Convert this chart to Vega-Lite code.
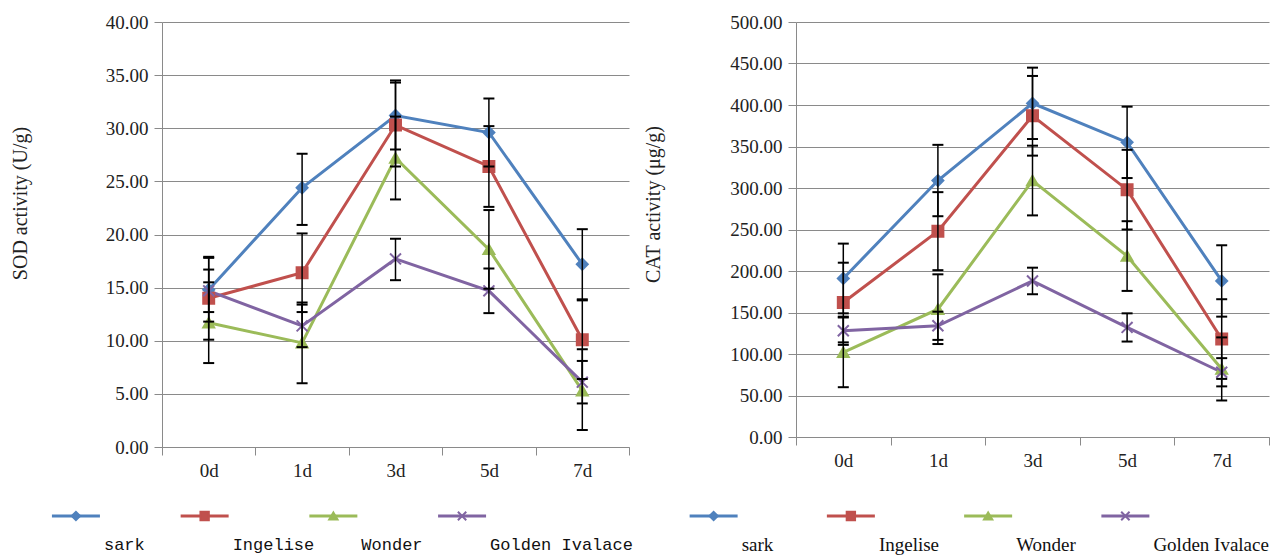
{
  "$schema": "https://vega.github.io/schema/vega-lite/v6.json",
  "background": "white",
  "padding": {"left": 10, "top": 13, "right": 0, "bottom": 0},
  "config": {
    "view": {"stroke": null},
    "font": "Liberation Serif",
    "axis": {
      "labelFont": "Liberation Serif", "labelFontSize": 19, "labelColor": "#222222",
      "titleFont": "Liberation Serif", "titleFontSize": 20, "titleFontWeight": "normal", "titleColor": "#222222",
      "domainColor": "#8a8a8a", "tickColor": "#8a8a8a", "gridColor": "#8a8a8a", "gridOpacity": 1,
      "tickSize": 8, "labelPadding": 6
    }
  },
  "datasets": {
    "sod": [
      {"series": "sark", "day": "0d", "mean": 14.8, "lo": 11.8, "hi": 17.8},
      {"series": "sark", "day": "1d", "mean": 24.4, "lo": 20.9, "hi": 27.6},
      {"series": "sark", "day": "3d", "mean": 31.2, "lo": 28.0, "hi": 34.5},
      {"series": "sark", "day": "5d", "mean": 29.6, "lo": 26.4, "hi": 32.8},
      {"series": "sark", "day": "7d", "mean": 17.2, "lo": 13.9, "hi": 20.5},
      {"series": "Ingelise", "day": "0d", "mean": 14.0, "lo": 10.1, "hi": 17.9},
      {"series": "Ingelise", "day": "1d", "mean": 16.4, "lo": 12.7, "hi": 20.1},
      {"series": "Ingelise", "day": "3d", "mean": 30.3, "lo": 26.4, "hi": 34.3},
      {"series": "Ingelise", "day": "5d", "mean": 26.4, "lo": 22.6, "hi": 30.2},
      {"series": "Ingelise", "day": "7d", "mean": 10.1, "lo": 6.4, "hi": 13.8},
      {"series": "Wonder", "day": "0d", "mean": 11.7, "lo": 7.9, "hi": 15.5},
      {"series": "Wonder", "day": "1d", "mean": 9.8, "lo": 6.0, "hi": 13.6},
      {"series": "Wonder", "day": "3d", "mean": 27.2, "lo": 23.3, "hi": 31.1},
      {"series": "Wonder", "day": "5d", "mean": 18.6, "lo": 14.9, "hi": 22.3},
      {"series": "Wonder", "day": "7d", "mean": 5.3, "lo": 1.6, "hi": 9.2},
      {"series": "Golden Ivalace", "day": "0d", "mean": 14.7, "lo": 12.7, "hi": 16.7},
      {"series": "Golden Ivalace", "day": "1d", "mean": 11.4, "lo": 9.4, "hi": 13.4},
      {"series": "Golden Ivalace", "day": "3d", "mean": 17.7, "lo": 15.7, "hi": 19.6},
      {"series": "Golden Ivalace", "day": "5d", "mean": 14.7, "lo": 12.6, "hi": 16.8},
      {"series": "Golden Ivalace", "day": "7d", "mean": 6.1, "lo": 4.1, "hi": 8.1}
    ],
    "cat": [
      {"series": "sark", "day": "0d", "mean": 191, "lo": 149, "hi": 233},
      {"series": "sark", "day": "1d", "mean": 309, "lo": 266, "hi": 352},
      {"series": "sark", "day": "3d", "mean": 402, "lo": 359, "hi": 445},
      {"series": "sark", "day": "5d", "mean": 355, "lo": 312, "hi": 398},
      {"series": "sark", "day": "7d", "mean": 188, "lo": 145, "hi": 231},
      {"series": "Ingelise", "day": "0d", "mean": 162, "lo": 114, "hi": 210},
      {"series": "Ingelise", "day": "1d", "mean": 248, "lo": 201, "hi": 295},
      {"series": "Ingelise", "day": "3d", "mean": 387, "lo": 339, "hi": 435},
      {"series": "Ingelise", "day": "5d", "mean": 298, "lo": 250, "hi": 346},
      {"series": "Ingelise", "day": "7d", "mean": 118, "lo": 70, "hi": 166},
      {"series": "Wonder", "day": "0d", "mean": 102, "lo": 60, "hi": 144},
      {"series": "Wonder", "day": "1d", "mean": 154, "lo": 112, "hi": 196},
      {"series": "Wonder", "day": "3d", "mean": 309, "lo": 267, "hi": 351},
      {"series": "Wonder", "day": "5d", "mean": 218, "lo": 176, "hi": 260},
      {"series": "Wonder", "day": "7d", "mean": 82, "lo": 44, "hi": 120},
      {"series": "Golden Ivalace", "day": "0d", "mean": 128, "lo": 111, "hi": 145},
      {"series": "Golden Ivalace", "day": "1d", "mean": 134, "lo": 117, "hi": 151},
      {"series": "Golden Ivalace", "day": "3d", "mean": 188, "lo": 172, "hi": 204},
      {"series": "Golden Ivalace", "day": "5d", "mean": 132, "lo": 115, "hi": 149},
      {"series": "Golden Ivalace", "day": "7d", "mean": 78, "lo": 61, "hi": 95}
    ],
    "legend": [
      {"series": "sark"},
      {"series": "Ingelise"},
      {"series": "Wonder"},
      {"series": "Golden Ivalace"}
    ]
  },
  "vconcat": [
    {
      "hconcat": [
        {
          "width": 467,
          "height": 425,
          "data": {"name": "sod"},
          "encoding": {
            "x": {
              "field": "day", "type": "nominal",
              "scale": {"type": "band", "domain": ["0d", "1d", "3d", "5d", "7d"], "paddingInner": 0, "paddingOuter": 0},
              "axis": {"title": null, "tickBand": "extent", "labelAngle": 0, "grid": false}
            }
          },
          "layer": [
            {
              "mark": {"type": "line", "strokeWidth": 3},
              "encoding": {
                "y": {
                  "field": "mean", "type": "quantitative", "title": "SOD activity (U/g)",
                  "scale": {"domain": [0, 40], "nice": false},
                  "axis": {"values": [0, 5, 10, 15, 20, 25, 30, 35, 40], "format": ".2f", "grid": true, "titlePadding": 75, "titleX": -132, "titleY": 181}
                },
                "color": {
                  "field": "series", "type": "nominal", "legend": null,
                  "scale": {"domain": ["sark", "Ingelise", "Wonder", "Golden Ivalace"], "range": ["#4f81bd", "#c0504d", "#9bbb59", "#8064a2"]}
                }
              }
            },
            {
              "mark": {"type": "point", "filled": true, "size": 120, "strokeWidth": 2, "opacity": 1},
              "encoding": {
                "y": {"field": "mean", "type": "quantitative", "title": "SOD activity (U/g)", "axis": {"values": [0, 5, 10, 15, 20, 25, 30, 35, 40], "format": ".2f", "grid": true, "titlePadding": 75, "titleX": -132, "titleY": 181}},
                "color": {"field": "series", "type": "nominal", "legend": null},
                "stroke": {
                  "field": "series", "type": "nominal", "legend": null,
                  "scale": {"domain": ["sark", "Ingelise", "Wonder", "Golden Ivalace"], "range": ["#4f81bd", "#c0504d", "#9bbb59", "#8064a2"]}
                },
                "shape": {
                  "field": "series", "type": "nominal", "legend": null,
                  "scale": {"domain": ["sark", "Ingelise", "Wonder", "Golden Ivalace"], "range": ["diamond", "square", "triangle-up", "M-1,-1L1,1M-1,1L1,-1"]}
                }
              }
            },
            {
              "mark": {"type": "rule", "color": "black", "strokeWidth": 1.5},
              "encoding": {
                "y": {"field": "lo", "type": "quantitative", "title": "SOD activity (U/g)", "axis": {"values": [0, 5, 10, 15, 20, 25, 30, 35, 40], "format": ".2f", "grid": true, "titlePadding": 75, "titleX": -132, "titleY": 181}},
                "y2": {"field": "hi"}
              }
            },
            {
              "mark": {"type": "tick", "color": "black", "size": 11, "thickness": 2, "opacity": 1},
              "encoding": {"y": {"field": "lo", "type": "quantitative", "title": "SOD activity (U/g)", "axis": {"values": [0, 5, 10, 15, 20, 25, 30, 35, 40], "format": ".2f", "grid": true, "titlePadding": 75, "titleX": -132, "titleY": 181}}}
            },
            {
              "mark": {"type": "tick", "color": "black", "size": 11, "thickness": 2, "opacity": 1},
              "encoding": {"y": {"field": "hi", "type": "quantitative", "title": "SOD activity (U/g)", "axis": {"values": [0, 5, 10, 15, 20, 25, 30, 35, 40], "format": ".2f", "grid": true, "titlePadding": 75, "titleX": -132, "titleY": 181}}}
            }
          ]
        },
        {
          "width": 473,
          "height": 415,
          "data": {"name": "cat"},
          "encoding": {
            "x": {
              "field": "day", "type": "nominal",
              "scale": {"type": "band", "domain": ["0d", "1d", "3d", "5d", "7d"], "paddingInner": 0, "paddingOuter": 0},
              "axis": {"title": null, "tickBand": "extent", "labelAngle": 0, "grid": false}
            }
          },
          "layer": [
            {
              "mark": {"type": "line", "strokeWidth": 3},
              "encoding": {
                "y": {
                  "field": "mean", "type": "quantitative", "title": "CAT activity (μg/g)",
                  "scale": {"domain": [0, 500], "nice": false},
                  "axis": {"values": [0, 50, 100, 150, 200, 250, 300, 350, 400, 450, 500], "format": ".2f", "grid": true, "titlePadding": 67, "titleX": -133, "titleY": 182}
                },
                "color": {
                  "field": "series", "type": "nominal", "legend": null,
                  "scale": {"domain": ["sark", "Ingelise", "Wonder", "Golden Ivalace"], "range": ["#4f81bd", "#c0504d", "#9bbb59", "#8064a2"]}
                }
              }
            },
            {
              "mark": {"type": "point", "filled": true, "size": 120, "strokeWidth": 2, "opacity": 1},
              "encoding": {
                "y": {"field": "mean", "type": "quantitative", "title": "CAT activity (μg/g)", "axis": {"values": [0, 50, 100, 150, 200, 250, 300, 350, 400, 450, 500], "format": ".2f", "grid": true, "titlePadding": 67, "titleX": -133, "titleY": 182}},
                "color": {"field": "series", "type": "nominal", "legend": null},
                "stroke": {
                  "field": "series", "type": "nominal", "legend": null,
                  "scale": {"domain": ["sark", "Ingelise", "Wonder", "Golden Ivalace"], "range": ["#4f81bd", "#c0504d", "#9bbb59", "#8064a2"]}
                },
                "shape": {
                  "field": "series", "type": "nominal", "legend": null,
                  "scale": {"domain": ["sark", "Ingelise", "Wonder", "Golden Ivalace"], "range": ["diamond", "square", "triangle-up", "M-1,-1L1,1M-1,1L1,-1"]}
                }
              }
            },
            {
              "mark": {"type": "rule", "color": "black", "strokeWidth": 1.5},
              "encoding": {
                "y": {"field": "lo", "type": "quantitative", "title": "CAT activity (μg/g)", "axis": {"values": [0, 50, 100, 150, 200, 250, 300, 350, 400, 450, 500], "format": ".2f", "grid": true, "titlePadding": 67, "titleX": -133, "titleY": 182}},
                "y2": {"field": "hi"}
              }
            },
            {
              "mark": {"type": "tick", "color": "black", "size": 11, "thickness": 2, "opacity": 1},
              "encoding": {"y": {"field": "lo", "type": "quantitative", "title": "CAT activity (μg/g)", "axis": {"values": [0, 50, 100, 150, 200, 250, 300, 350, 400, 450, 500], "format": ".2f", "grid": true, "titlePadding": 67, "titleX": -133, "titleY": 182}}}
            },
            {
              "mark": {"type": "tick", "color": "black", "size": 11, "thickness": 2, "opacity": 1},
              "encoding": {"y": {"field": "hi", "type": "quantitative", "title": "CAT activity (μg/g)", "axis": {"values": [0, 50, 100, 150, 200, 250, 300, 350, 400, 450, 500], "format": ".2f", "grid": true, "titlePadding": 67, "titleX": -133, "titleY": 182}}}
            }
          ]
        }
      ],
      "spacing": 167,
      "bounds": "flush"
    },
    {
      "hconcat": [
        {
          "width": 520,
          "height": 20,
          "data": {"name": "legend"},
          "encoding": {
            "x": {"field": "series", "type": "nominal", "axis": null,
              "scale": {"type": "point", "domain": ["sark", "Ingelise", "Wonder", "Golden Ivalace"], "padding": 0.52}}
          },
          "layer": [
            {
              "mark": {"type": "tick", "orient": "horizontal", "size": 48, "thickness": 3, "opacity": 1, "xOffset": -153},
              "encoding": {"color": {"field": "series", "type": "nominal", "legend": null}}
            },
            {
              "mark": {"type": "point", "filled": true, "size": 70, "strokeWidth": 2, "opacity": 1, "xOffset": -153},
              "encoding": {
                "color": {"field": "series", "type": "nominal", "legend": null},
                "stroke": {"field": "series", "type": "nominal", "legend": null},
                "shape": {"field": "series", "type": "nominal", "legend": null}
              }
            },
            {
              "mark": {"type": "text", "align": "left", "baseline": "middle", "xOffset": -153, "dx": 28, "dy": 29, "font": "Liberation Mono", "fontSize": 17, "color": "#111111"},
              "encoding": {"text": {"field": "series"}}
            }
          ]
        },
        {
          "width": 549,
          "height": 20,
          "data": {"name": "legend"},
          "encoding": {
            "x": {"field": "series", "type": "nominal", "axis": null,
              "scale": {"type": "point", "domain": ["sark", "Ingelise", "Wonder", "Golden Ivalace"], "padding": 0.5}}
          },
          "layer": [
            {
              "mark": {"type": "tick", "orient": "horizontal", "size": 48, "thickness": 3, "opacity": 1, "xOffset": -153},
              "encoding": {"color": {"field": "series", "type": "nominal", "legend": null}}
            },
            {
              "mark": {"type": "point", "filled": true, "size": 70, "strokeWidth": 2, "opacity": 1, "xOffset": -153},
              "encoding": {
                "color": {"field": "series", "type": "nominal", "legend": null},
                "stroke": {"field": "series", "type": "nominal", "legend": null},
                "shape": {"field": "series", "type": "nominal", "legend": null}
              }
            },
            {
              "mark": {"type": "text", "align": "left", "baseline": "middle", "xOffset": -153, "dx": 28, "dy": 29, "font": "Liberation Serif", "fontSize": 19, "color": "#111111"},
              "encoding": {"text": {"field": "series"}}
            }
          ]
        }
      ],
      "spacing": 116,
      "bounds": "flush"
    }
  ],
  "spacing": 26
}
